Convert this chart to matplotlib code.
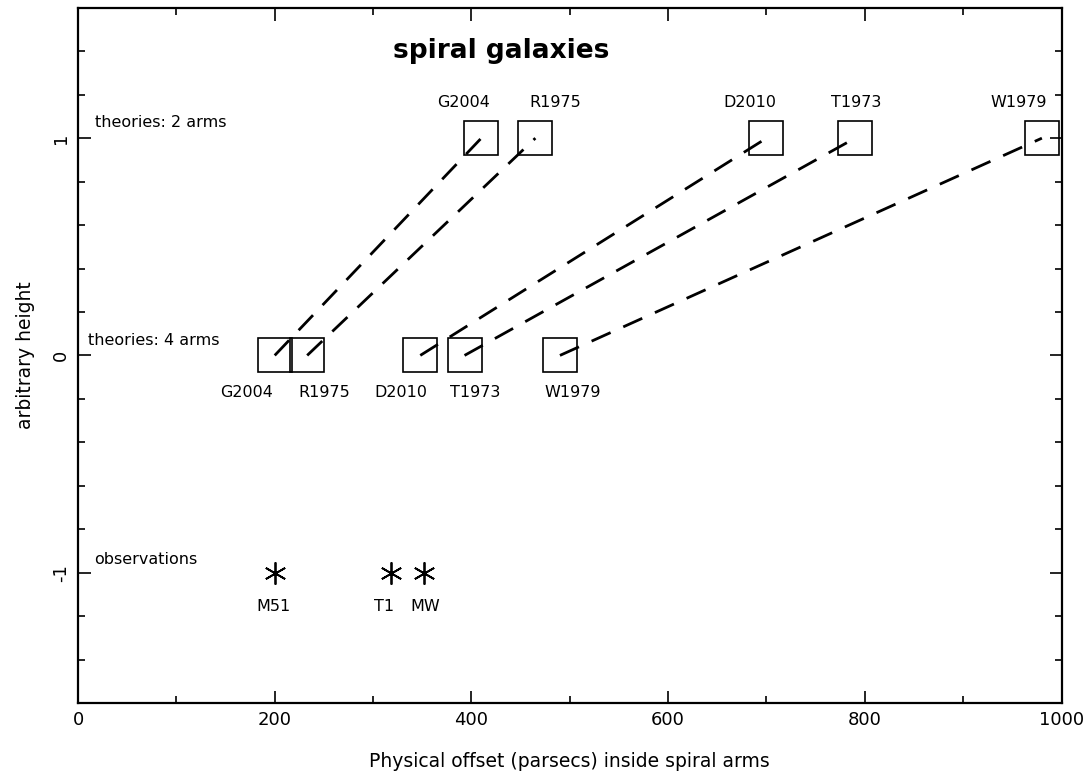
"""Offsets of spiral-arm theories and observations inside spiral arms."""

import matplotlib

matplotlib.use("Agg")
import matplotlib.pyplot as plt
from matplotlib.ticker import MultipleLocator

plt.rcParams["font.family"] = ["DejaVu Sans"]
plt.rcParams["axes.unicode_minus"] = False

THEORY_NAMES = ["G2004", "R1975", "D2010", "T1973", "W1979"]
TWO_ARM_OFFSET = [410, 465, 700, 790, 980]
FOUR_ARM_OFFSET = [200, 233, 348, 393, 490]
TWO_ARM_HEIGHT = 1
FOUR_ARM_HEIGHT = 0

OBS_NAMES = ["M51", "T1", "MW"]
OBS_OFFSET = [200, 318, 352]
OBS_HEIGHT = -1

# label shifts (points) so neighbouring names don't collide
TWO_ARM_LABEL_DX = [-13, 14, -12, 1, -17]
FOUR_ARM_LABEL_DX = [-20, 12, -14, 8, 9]
OBS_LABEL_DX = [-1, -5, 1]


def main() -> None:
    fig = plt.figure(figsize=(10.88, 7.82), dpi=100)
    ax = fig.add_axes([0.0717, 0.101, 0.904, 0.889])

    for x4, x2 in zip(FOUR_ARM_OFFSET, TWO_ARM_OFFSET):
        ax.plot([x4, x2], [FOUR_ARM_HEIGHT, TWO_ARM_HEIGHT], color="black",
                lw=2.0, dashes=(7.5, 5), zorder=2)

    box_style = dict(marker="s", ms=24, mfc="none", mec="black", mew=1.2,
                     ls="none", zorder=3)
    ax.plot(TWO_ARM_OFFSET, [TWO_ARM_HEIGHT] * len(TWO_ARM_OFFSET), **box_style)
    ax.plot(FOUR_ARM_OFFSET, [FOUR_ARM_HEIGHT] * len(FOUR_ARM_OFFSET), **box_style)
    # six-armed asterisk with one arm pointing straight up
    ax.plot(OBS_OFFSET, [OBS_HEIGHT] * len(OBS_OFFSET), marker=(6, 2, 0), ms=16,
            mew=1.3, color="black", ls="none", zorder=3)

    label_kw = dict(textcoords="offset points", ha="center", va="center",
                    fontsize=11.5)
    for name, x, dx in zip(THEORY_NAMES, TWO_ARM_OFFSET, TWO_ARM_LABEL_DX):
        ax.annotate(name, (x, TWO_ARM_HEIGHT), xytext=(dx, 26), **label_kw)
    for name, x, dx in zip(THEORY_NAMES, FOUR_ARM_OFFSET, FOUR_ARM_LABEL_DX):
        ax.annotate(name, (x, FOUR_ARM_HEIGHT), xytext=(dx, -27), **label_kw)
    for name, x, dx in zip(OBS_NAMES, OBS_OFFSET, OBS_LABEL_DX):
        ax.annotate(name, (x, OBS_HEIGHT), xytext=(dx, -24), **label_kw)

    row_kw = dict(ha="left", va="center", fontsize=11.5)
    ax.text(17, 1.07, "theories: 2 arms", **row_kw)
    ax.text(10, 0.07, "theories: 4 arms", **row_kw)
    ax.text(16, -0.94, "observations", **row_kw)
    ax.text(430, 1.4, "spiral galaxies", ha="center", va="center",
            fontsize=19, fontweight="bold")

    ax.set_xlim(0, 1000)
    ax.set_ylim(-1.6, 1.6)
    ax.xaxis.set_major_locator(MultipleLocator(200))
    ax.xaxis.set_minor_locator(MultipleLocator(100))
    ax.yaxis.set_major_locator(MultipleLocator(1))
    ax.yaxis.set_minor_locator(MultipleLocator(0.2))
    ax.tick_params(which="both", direction="in", top=True, right=True,
                   width=1.2, labelsize=13, pad=6)
    ax.tick_params(which="major", length=9)
    ax.tick_params(which="minor", length=5)
    for lbl in ax.get_yticklabels():
        lbl.set_rotation(90)
        lbl.set_va("center")
    for spine in ax.spines.values():
        spine.set_linewidth(1.6)

    ax.set_xlabel("Physical offset (parsecs) inside spiral arms", fontsize=13.5,
                  labelpad=16)
    ax.set_ylabel("arbitrary height", fontsize=13.5, labelpad=12)

    fig.savefig("out.png", dpi=100)
    plt.close(fig)


if __name__ == "__main__":
    main()
